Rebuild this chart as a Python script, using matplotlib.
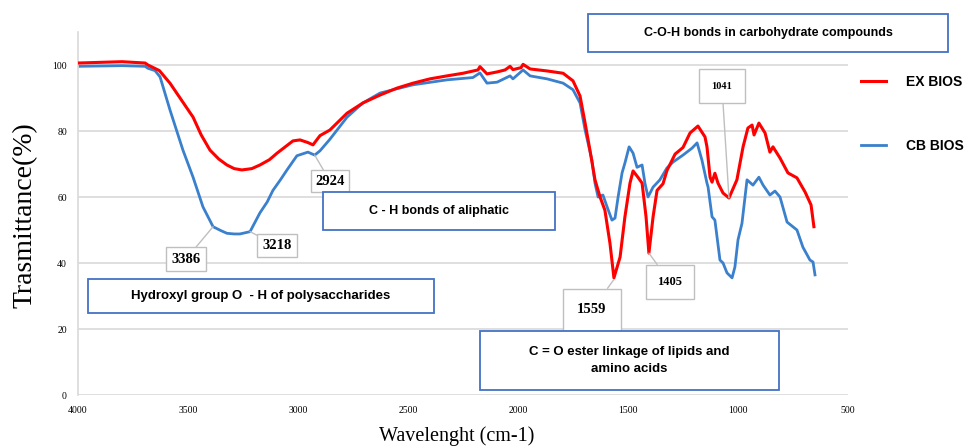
import matplotlib
matplotlib.use("Agg")
import matplotlib.pyplot as plt
from matplotlib.patches import Rectangle

# ---- data ----
ex_wn = [4000, 3900, 3800, 3695, 3682, 3630, 3582, 3530, 3477, 3440, 3400, 3360, 3323, 3290,
         3255, 3210, 3173, 3130, 3095, 3023, 2991,
         2955, 2932, 2900, 2855, 2777, 2705, 2627, 2550, 2477, 2400, 2323, 2250, 2182, 2173,
         2141, 2095, 2059, 2036, 2023, 1986, 1977, 1945, 1868, 1795, 1750, 1718, 1695, 1673,
         1650, 1627, 1605, 1582, 1564, 1536, 1514, 1491, 1477, 1455, 1436, 1418, 1405, 1386,
         1368, 1341, 1323, 1286, 1250, 1218, 1182, 1150, 1141, 1127, 1118, 1105, 1091, 1068,
         1041, 1005, 977, 955, 936, 927, 905, 877, 855, 841, 809, 773, 732, 695, 668, 655]
ex_t = [100.6, 100.8, 101.0, 100.6, 100.0, 98.3, 94.5, 89.4, 84.2, 78.8, 74.2, 71.5, 69.7, 68.6,
        68.2, 68.6, 69.7, 71.3, 73.3, 77.0, 77.3,
        76.5, 75.8, 78.6, 80.3, 85.4, 88.5, 90.9, 93.0, 94.5, 95.8, 96.7, 97.5, 98.5, 99.5,
        97.3, 97.9, 98.5, 99.6, 98.6, 99.2, 100.2, 98.8, 98.2, 97.5, 95.2, 90.6, 82.4, 74.2,
        65.2, 60.0, 56.0, 46.0, 35.5, 41.8, 54.0, 64.2, 67.9, 66.0, 64.2, 54.0, 43.0, 54.0,
        62.0, 64.0, 68.0, 73.0, 75.0, 79.4, 81.5, 78.2, 75.2, 66.0, 64.5, 67.2, 64.2, 61.2,
        59.7, 65.2, 75.2, 80.9, 81.8, 78.8, 82.4, 79.4, 73.6, 75.2, 71.8, 67.3, 65.8, 61.5, 57.6, 51.0]

cb_wn = [4000, 3800, 3695, 3682, 3650, 3627, 3582, 3523, 3477, 3432, 3386, 3350, 3323, 3290,
         3264, 3218, 3173, 3140, 3114, 3080, 3050, 3005, 2955, 2924, 2900, 2855, 2777, 2705,
         2627, 2550, 2477, 2323, 2205,
         2173, 2141, 2095, 2036, 2023, 1977, 1945, 1868, 1795, 1750, 1718, 1695, 1664, 1650,
         1636, 1614, 1595, 1573, 1559, 1545, 1527, 1514, 1495, 1477, 1459, 1436, 1423, 1409,
         1386, 1355, 1323, 1295, 1250, 1209, 1186, 1164, 1141, 1136, 1118, 1105, 1082, 1068,
         1050, 1027, 1014, 1000, 982, 959, 932, 905, 886, 855, 832, 809, 777, 732, 705, 673,
         659, 650]
cb_t = [99.6, 99.8, 99.6, 99.0, 98.3, 96.4, 86.4, 74.2, 66.0, 57.0, 51.0, 49.8, 49.0, 48.8,
        48.8, 49.5, 55.2, 58.5, 62.0, 65.2, 68.2, 72.5, 73.6, 72.7, 74.0, 77.5, 84.2, 88.5,
        91.5, 92.8, 94.0, 95.5, 96.2,
        97.6, 94.5, 94.8, 96.7, 95.8, 98.5, 96.7, 95.8, 94.5, 92.5, 88.5, 80.3, 71.2, 64.2,
        60.0, 60.6, 57.0, 53.0, 53.6, 60.0, 67.3, 70.3, 75.2, 73.3, 69.0, 69.7, 64.2, 60.0,
        63.0, 65.2, 68.8, 70.6, 72.7, 74.8, 76.4, 71.2, 64.2, 63.0, 54.0, 53.0, 40.9, 40.0,
        37.0, 35.5, 38.8, 47.0, 52.0, 65.2, 63.6, 66.0, 63.6, 60.6, 61.8, 60.0, 52.4, 50.0,
        44.8, 40.9, 40.3, 36.4]

series_names = ["EX BIOS", "CB BIOS"]
x_ticks = [4000, 3500, 3000, 2500, 2000, 1500, 1000, 500]
y_ticks = [0, 20, 40, 60, 80, 100]

peak_labels = ["3386", "3218", "2924", "1559", "1405", "1041"]
peak_xy = [(3386, 51.0), (3218, 49.5), (2924, 72.7), (1564, 35.0), (1405, 43.0), (1041, 59.7)]

band_texts = ["C-O-H bonds in carbohydrate compounds",
              "C - H bonds of aliphatic",
              "Hydroxyl group O  - H of polysaccharides",
              "C = O ester linkage of lipids and\namino acids"]

# ---- figure ----
W, H = 979, 448
fig = plt.figure(figsize=(W / 100, H / 100), dpi=100)
def fx(px):
    return px / W
def fy(py):
    return 1 - py / H

ax = fig.add_axes([fx(78), fy(395), fx(848) - fx(78), fy(32) - fy(395)])
red = "#FF0000"
blue = "#3A80CC"
l1, = ax.plot(ex_wn, ex_t, color=red, lw=2.2, label=series_names[0], zorder=3)
l2, = ax.plot(cb_wn, cb_t, color=blue, lw=2.0, label=series_names[1], zorder=2)

ax.set_xlim(4000, 500)
ax.set_ylim(0, 110)
ax.set_xticks(x_ticks)
ax.set_yticks(y_ticks)
ax.set_xticklabels([str(v) for v in x_ticks], fontsize=7, family="Liberation Serif")
ax.set_yticklabels([str(v) for v in y_ticks], fontsize=7, family="Liberation Serif")
ax.tick_params(length=0, pad=8)
ax.grid(axis="y", color="#D9D9D9", lw=1.2)
for s in ["top", "right", "bottom"]:
    ax.spines[s].set_visible(False)
ax.spines["left"].set_color("#D9D9D9")
ax.spines["left"].set_linewidth(1.2)

fig.text(fx(25), fy(215), "Trasmittance(%)", rotation=90, ha="center", va="center",
         fontsize=20, family="Liberation Serif")
fig.text(fx(457), fy(436), "Wavelenght (cm-1)", ha="center", va="center",
         fontsize=14.5, family="Liberation Serif")

# legend
leg = ax.legend(handles=[l1, l2], loc="upper left", bbox_to_anchor=(fx(849), fy(62)),
                bbox_transform=fig.transFigure, frameon=False, handlelength=1.8,
                handletextpad=1.4, labelspacing=3.6,
                prop=dict(family="Liberation Sans", weight="bold", size=10))

# band boxes (figure pixel rectangles)
box_px = [(588, 14, 948, 52), (323, 192, 555, 230), (88, 279, 434, 313), (480, 331, 779, 390)]
box_fs = [9, 9, 9.5, 9.5]
for (x0, y0, x1, y1), txt, fs in zip(box_px, band_texts, box_fs):
    fig.patches.append(Rectangle((fx(x0), fy(y1)), fx(x1) - fx(x0), fy(y0) - fy(y1),
                                 transform=fig.transFigure, facecolor="white",
                                 edgecolor="#4472C4", lw=1.3, zorder=5))
    fig.text(fx((x0 + x1) / 2), fy((y0 + y1) / 2), txt, ha="center", va="center",
             fontsize=fs, weight="bold", family="Liberation Sans", zorder=6,
             linespacing=1.5)

# peak callouts
callout_pos = [(3509, 41.2), (3095, 45.2), (2855, 64.8), (1664, 25.8), (1309, 34.2), (1073, 93.6)]
callout_fs = [10.5, 10.5, 10.5, 10.5, 9, 7.5]
callout_pad = [0.35, 0.35, 0.3, 1.0, 0.9, 1.2]
for lab, xy, pos, fs, pd in zip(peak_labels, peak_xy, callout_pos, callout_fs, callout_pad):
    ax.annotate(lab, xy=xy, xytext=pos, ha="center", va="center", fontsize=fs,
                weight="bold", family="Liberation Serif", zorder=4,
                bbox=dict(boxstyle=f"square,pad={pd}", fc="white", ec="#BFBFBF", lw=1),
                arrowprops=dict(arrowstyle="-", color="#BFBFBF", lw=1, shrinkA=0, shrinkB=0))

fig.savefig("out.png", dpi=100)
